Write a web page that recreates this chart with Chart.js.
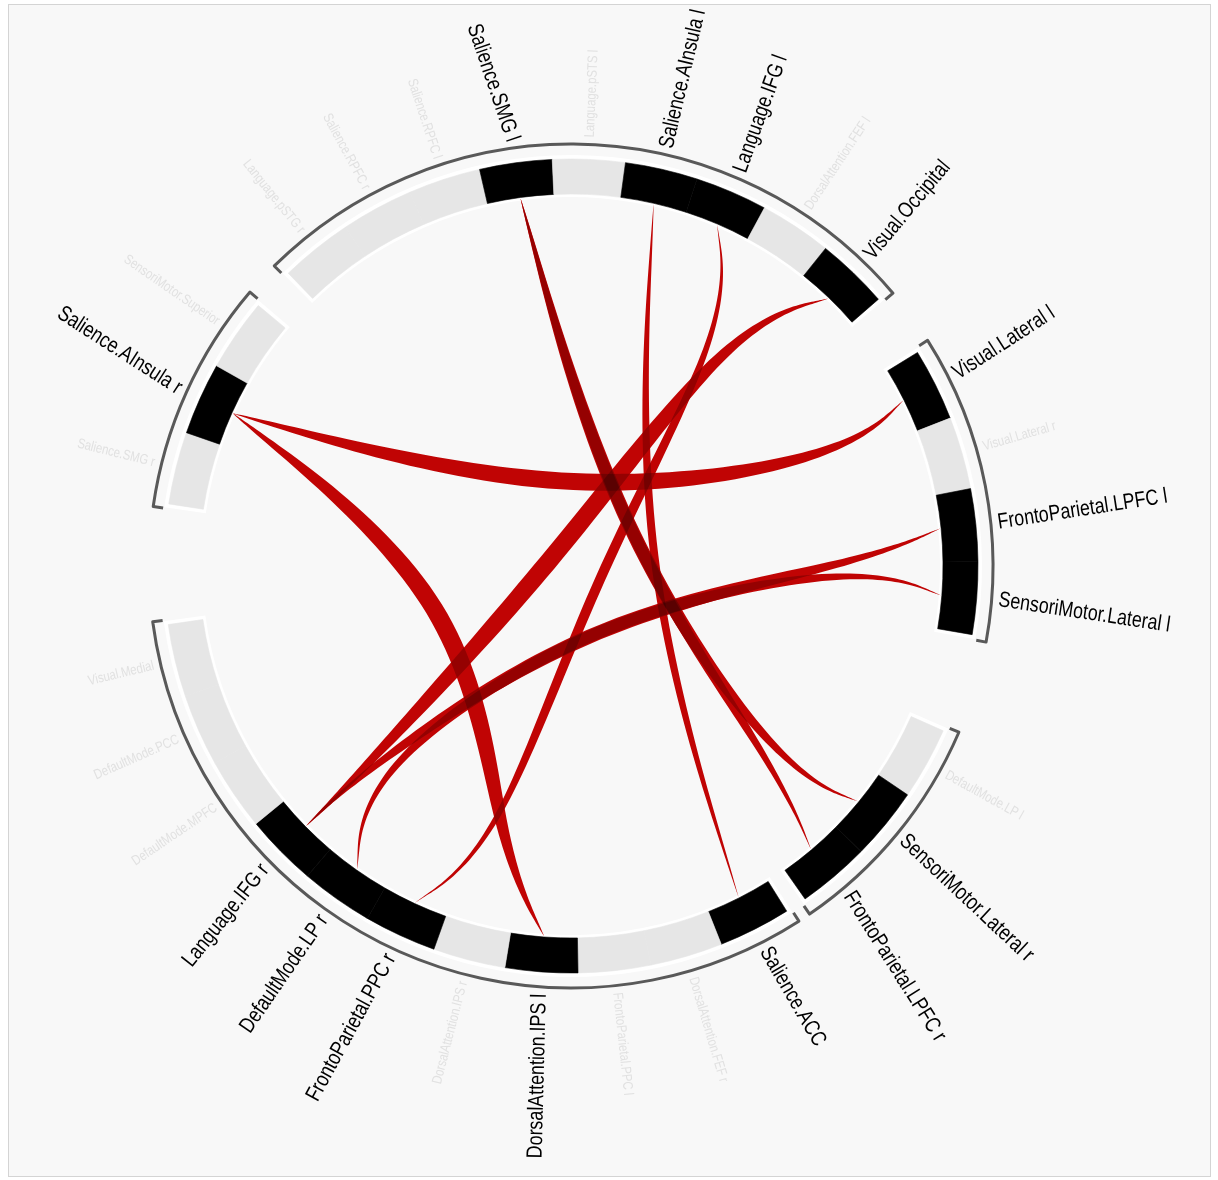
<!DOCTYPE html>
<html>
<head>
<meta charset="utf-8">
<script src="https://cdn.jsdelivr.net/npm/chart.js@4.4.0/dist/chart.umd.min.js"></script>
<style>
  html, body { margin: 0; padding: 0; background: #fff; }
  #wrap { width: 1218px; height: 1180px; }
</style>
</head>
<body>
<div id="wrap"><canvas id="chord" width="1218" height="1180"></canvas></div>
<script>
// ring groups, clockwise from the top-left
const groupTop = ['Language.pSTG r', 'Salience.RPFC r', 'Salience.RPFC l', 'Salience.SMG l', 'Language.pSTS l',
  'Salience.AInsula l', 'Language.IFG l', 'DorsalAttention.FEF l', 'Visual.Occipital'];
const groupRight = ['Visual.Lateral l', 'Visual.Lateral r', 'FrontoParietal.LPFC l', 'SensoriMotor.Lateral l'];
const groupLowerRight = ['DefaultMode.LP l', 'SensoriMotor.Lateral r', 'FrontoParietal.LPFC r'];
const groupBottom = ['Salience.ACC', 'DorsalAttention.FEF r', 'FrontoParietal.PPC l', 'DorsalAttention.IPS l',
  'DorsalAttention.IPS r', 'FrontoParietal.PPC r', 'DefaultMode.LP r', 'Language.IFG r', 'DefaultMode.MPFC',
  'DefaultMode.PCC', 'Visual.Medial'];
const groupLeft = ['Salience.SMG r', 'Salience.AInsula r', 'SensoriMotor.Superior'];
// gap after each group, in node units
const groupGaps = [0.9, 1.37, 0.3, 1.65, 0.6];

// sub-clusters used to bundle the links
const clusters = [
  ['Language.IFG l', 'DorsalAttention.FEF l', 'Visual.Occipital'],
  ['Visual.Lateral l', 'Visual.Lateral r'],
  ['FrontoParietal.LPFC l', 'SensoriMotor.Lateral l'],
  ['SensoriMotor.Lateral r', 'FrontoParietal.LPFC r'],
  ['DorsalAttention.IPS l', 'DorsalAttention.IPS r', 'FrontoParietal.PPC r'],
  ['DefaultMode.LP r', 'Language.IFG r', 'DefaultMode.MPFC']
];

// links
const linkFrom = ['Salience.AInsula r', 'Salience.AInsula r', 'Language.IFG l', 'Language.IFG r', 'Language.IFG r',
  'DefaultMode.LP r', 'Salience.SMG l', 'Salience.SMG l', 'Salience.AInsula l'];
const linkTo = ['Visual.Lateral l', 'DorsalAttention.IPS l', 'FrontoParietal.PPC r', 'Visual.Occipital',
  'FrontoParietal.LPFC l', 'SensoriMotor.Lateral l', 'SensoriMotor.Lateral r', 'FrontoParietal.LPFC r', 'Salience.ACC'];
const linkWidth = [17, 18, 10, 18, 14, 12, 14, 12, 8];

// label direction tweaks (degrees), layout only
const labelTilt = {
  'Salience.SMG l': -11, 'Salience.AInsula l': 0.5, 'Language.IFG l': -3.5, 'Visual.Occipital': -4,
  'Visual.Lateral l': -6.5, 'FrontoParietal.LPFC l': -3, 'SensoriMotor.Lateral l': 4, 'SensoriMotor.Lateral r': 3.8,
  'FrontoParietal.LPFC r': 8, 'Salience.ACC': -3.4, 'DorsalAttention.IPS l': -2.7, 'FrontoParietal.PPC r': 3.7,
  'DefaultMode.LP r': -0.6, 'Language.IFG r': -7, 'Salience.AInsula r': 8.5
};

const groups = [groupTop, groupRight, groupLowerRight, groupBottom, groupLeft];
const linked = new Set([...linkFrom, ...linkTo]);

const ringLabels = [], ringData = [], ringColors = [], ringGroup = [];
groups.forEach((g, gi) => {
  g.forEach(name => {
    ringLabels.push(name);
    ringData.push(1);
    ringColors.push(linked.has(name) ? '#000000' : '#e6e6e6');
    ringGroup.push(gi);
  });
  ringLabels.push('');
  ringData.push(groupGaps[gi]);
  ringColors.push('rgba(0,0,0,0)');
  ringGroup.push(-1);
});

const R_OUT = 407, R_IN = 372;

// uniform cubic B-spline, clamped at both ends
function bspline(pts, steps) {
  const a = pts[0], z = pts[pts.length - 1];
  const q = [a, a, ...pts, z, z];
  const out = [];
  for (let i = 0; i + 3 < q.length; i++) {
    for (let k = 0; k < steps; k++) {
      const u = k / steps;
      const b0 = (1 - u) ** 3 / 6;
      const b1 = (3 * u ** 3 - 6 * u ** 2 + 4) / 6;
      const b2 = (-3 * u ** 3 + 3 * u ** 2 + 3 * u + 1) / 6;
      const b3 = u ** 3 / 6;
      out.push([
        b0 * q[i][0] + b1 * q[i + 1][0] + b2 * q[i + 2][0] + b3 * q[i + 3][0],
        b0 * q[i][1] + b1 * q[i + 1][1] + b2 * q[i + 2][1] + b3 * q[i + 3][1]
      ]);
    }
  }
  out.push(z);
  return out;
}

const chordPlugin = {
  id: 'chordPlugin',
  beforeDraw(chart) {
    const ctx = chart.ctx;
    ctx.save();
    ctx.fillStyle = '#ffffff';
    ctx.fillRect(0, 0, chart.width, chart.height);
    ctx.fillStyle = '#f8f8f8';
    ctx.fillRect(8, 4, 1203, 1173);
    ctx.strokeStyle = '#d4d4d4';
    ctx.lineWidth = 1;
    ctx.strokeRect(8.5, 4.5, 1202, 1172);
    ctx.restore();
  },
  beforeDatasetsDraw(chart) {
    const ctx = chart.ctx;
    const arcs = chart.getDatasetMeta(0).data;
    const cx = arcs[0].x, cy = arcs[0].y;
    const rOut = arcs[0].outerRadius, rIn = arcs[0].innerRadius;
    ctx.save();
    groups.forEach((g, gi) => {
      const idx = ringGroup.map((v, i) => v === gi ? i : -1).filter(i => i >= 0);
      const s = arcs[idx[0]].startAngle, e = arcs[idx[idx.length - 1]].endAngle;
      // white halo around the ring
      const d = 4 / rOut;
      ctx.beginPath();
      ctx.arc(cx, cy, rOut + 4, s - d, e + d);
      ctx.arc(cx, cy, rIn - 3, e + d, s - d, true);
      ctx.closePath();
      ctx.fillStyle = '#ffffff';
      ctx.fill();
      // bracket
      const rb = rOut + 15, db = 5 / rb, rt = rb - 10;
      ctx.beginPath();
      ctx.moveTo(cx + rt * Math.cos(s - db), cy + rt * Math.sin(s - db));
      ctx.lineTo(cx + rb * Math.cos(s - db), cy + rb * Math.sin(s - db));
      ctx.arc(cx, cy, rb, s - db, e + db);
      ctx.lineTo(cx + rt * Math.cos(e + db), cy + rt * Math.sin(e + db));
      ctx.strokeStyle = '#595959';
      ctx.lineWidth = 3;
      ctx.lineJoin = 'round';
      ctx.stroke();
    });
    ctx.restore();
  },
  afterDatasetsDraw(chart) {
    const ctx = chart.ctx;
    const arcs = chart.getDatasetMeta(0).data;
    const cx = arcs[0].x, cy = arcs[0].y;
    const rOut = arcs[0].outerRadius, rIn = arcs[0].innerRadius;
    const midOf = name => {
      const a = arcs[ringLabels.indexOf(name)];
      return (a.startAngle + a.endAngle) / 2;
    };
    const rc = rIn - 1, rSub = 290, pull = 0.5;
    const at = (t, r) => [cx + r * Math.cos(t), cy + r * Math.sin(t)];
    const subOf = name => {
      const c = clusters.find(c => c.includes(name));
      if (!c) return null;
      const t = c.reduce((s, n) => s + midOf(n), 0) / c.length;
      return at(t, rSub);
    };

    // chords, bundled through their sub-clusters
    ctx.save();
    ctx.globalCompositeOperation = 'multiply';
    ctx.fillStyle = 'rgb(198,4,4)';
    linkFrom.forEach((from, i) => {
      const A = at(midOf(from), rc), B = at(midOf(linkTo[i]), rc);
      const sa = subOf(from), sb = subOf(linkTo[i]);
      const ea = sa || A, eb = sb || B;
      const mid = [(ea[0] + eb[0]) / 2, (ea[1] + eb[1]) / 2];
      const root = [cx * pull + mid[0] * (1 - pull), cy * pull + mid[1] * (1 - pull)];
      const ctrl = [A];
      if (sa) ctrl.push(sa);
      ctrl.push(root);
      if (sb) ctrl.push(sb);
      ctrl.push(B);
      const pts = bspline(ctrl, 24);
      const cum = [0];
      for (let k = 1; k < pts.length; k++) {
        cum.push(cum[k - 1] + Math.hypot(pts[k][0] - pts[k - 1][0], pts[k][1] - pts[k - 1][1]));
      }
      const L = cum[cum.length - 1];
      const left = [], right = [];
      pts.forEach((p, k) => {
        const p0 = pts[Math.max(0, k - 1)], p1 = pts[Math.min(pts.length - 1, k + 1)];
        const dx = p1[0] - p0[0], dy = p1[1] - p0[1];
        const dl = Math.hypot(dx, dy) || 1;
        const nx = -dy / dl, ny = dx / dl;
        const h = linkWidth[i] / 2 * Math.pow(Math.sin(Math.PI * cum[k] / L), 0.8);
        left.push([p[0] + nx * h, p[1] + ny * h]);
        right.push([p[0] - nx * h, p[1] - ny * h]);
      });
      ctx.beginPath();
      ctx.moveTo(left[0][0], left[0][1]);
      left.forEach(p => ctx.lineTo(p[0], p[1]));
      right.reverse().forEach(p => ctx.lineTo(p[0], p[1]));
      ctx.closePath();
      ctx.fill();
    });
    ctx.restore();

    // labels
    const sx = 0.81, rl = rOut + 22;
    ctx.save();
    ctx.textBaseline = 'middle';
    ringLabels.forEach(name => {
      if (!name) return;
      const t = midOf(name);
      const strong = linked.has(name);
      const tilt = (labelTilt[name] || 0) * Math.PI / 180;
      ctx.save();
      ctx.translate(cx + rl * Math.cos(t), cy + rl * Math.sin(t));
      ctx.font = strong ? '22px "Liberation Sans", Arial, sans-serif' : '14px "Liberation Sans", Arial, sans-serif';
      ctx.fillStyle = strong ? '#000000' : '#e1e1e1';
      if (Math.cos(t) >= 0) {
        ctx.rotate(t + tilt);
        ctx.scale(sx, 1);
        ctx.textAlign = 'left';
      } else {
        ctx.rotate(t + tilt + Math.PI);
        ctx.scale(sx, 1);
        ctx.textAlign = 'right';
      }
      ctx.fillText(name, 0, 0);
      ctx.restore();
    });
    ctx.restore();
  }
};

new Chart(document.getElementById('chord'), {
  type: 'doughnut',
  data: {
    labels: ringLabels,
    datasets: [{
      data: ringData,
      backgroundColor: ringColors,
      borderColor: ringColors,
      borderWidth: 0.6,
      hoverOffset: 0
    }]
  },
  options: {
    responsive: false,
    animation: false,
    rotation: -44,
    radius: R_OUT,
    cutout: (R_IN / R_OUT * 100) + '%',
    layout: { padding: { left: 0, right: 76, top: 0, bottom: 48 } },
    plugins: {
      legend: { display: false },
      tooltip: { enabled: false }
    },
    events: []
  },
  plugins: [chordPlugin]
});
</script>
</body>
</html>
